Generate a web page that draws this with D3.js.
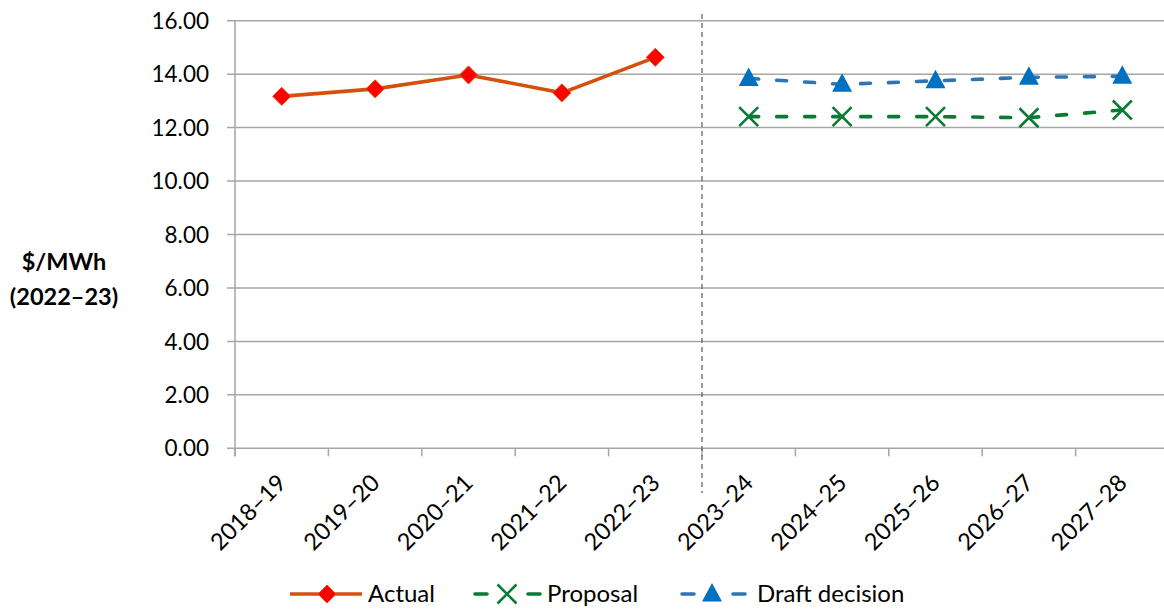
<!DOCTYPE html>
<html>
<head>
<meta charset="utf-8">
<script src="https://cdn.jsdelivr.net/npm/d3@7"></script>
<style>
  html, body { margin: 0; padding: 0; background: #fff; }
  svg { display: block; }
  text { font-family: Lato, "Open Sans", sans-serif; fill: #000; }
</style>
</head>
<body>
<svg id="chart" width="1164" height="609"></svg>
<script>
// Financial years on the category axis
const categories = ["2018–19", "2019–20", "2020–21", "2021–22", "2022–23",
                    "2023–24", "2024–25", "2025–26", "2026–27", "2027–28"];

// $/MWh (2022–23), null where a series has no value
const actual   = [13.17, 13.45, 13.97, 13.30, 14.63, null, null, null, null, null];
const proposal = [null, null, null, null, null, 12.41, 12.41, 12.41, 12.37, 12.66];
const draft    = [null, null, null, null, null, 13.84, 13.62, 13.75, 13.88, 13.92];

const yTicks = [0, 2, 4, 6, 8, 10, 12, 14, 16];
const splitAfter = "2022–23";

const svg = d3.select("#chart");
const margin = { left: 235, right: -5, top: 20.7, bottom: 160.7 };
const W = 1164, H = 609;

const x = d3.scaleBand()
  .domain(categories)
  .range([margin.left, W - margin.right]);
const y = d3.scaleLinear()
  .domain([0, 16])
  .range([H - margin.bottom, margin.top]);

const gridColor = "#a6a6a6";

// horizontal gridlines
svg.append("g")
  .selectAll("line")
  .data(yTicks)
  .join("line")
  .attr("x1", margin.left - 8)
  .attr("x2", W - margin.right)
  .attr("y1", d => y(d))
  .attr("y2", d => y(d))
  .attr("stroke", gridColor)
  .attr("stroke-width", 1.5);

// y axis line
svg.append("line")
  .attr("x1", margin.left).attr("x2", margin.left)
  .attr("y1", y(16)).attr("y2", y(0) + 8)
  .attr("stroke", gridColor).attr("stroke-width", 1.5);

// y tick labels
svg.append("g")
  .selectAll("text")
  .data(yTicks)
  .join("text")
  .attr("x", 209)
  .attr("y", d => y(d))
  .attr("dy", "0.36em")
  .attr("text-anchor", "end")
  .style("font-size", "22.5px")
  .text(d => d3.format(".2f")(d));

// x tick marks at band boundaries
const boundaries = categories.map(c => x(c)).concat([x(categories[categories.length - 1]) + x.bandwidth()]);
svg.append("g")
  .selectAll("line")
  .data(boundaries)
  .join("line")
  .attr("x1", d => d).attr("x2", d => d)
  .attr("y1", y(0)).attr("y2", y(0) + 8)
  .attr("stroke", gridColor).attr("stroke-width", 1.5);

// x tick labels, rotated
svg.append("g")
  .selectAll("text")
  .data(categories)
  .join("text")
  .attr("transform", d => `translate(${x(d) + x.bandwidth() / 2},${y(0) + 30}) rotate(-45)`)
  .attr("text-anchor", "end")
  .attr("dy", "0.36em")
  .style("font-size", "23.5px")
  .text(d => d);

// divider between actual and forecast years
const splitX = x(splitAfter) + x.bandwidth();
svg.append("line")
  .attr("x1", splitX).attr("x2", splitX)
  .attr("y1", 14).attr("y2", 493)
  .attr("stroke", "#595959")
  .attr("stroke-width", 1.2)
  .attr("stroke-dasharray", "5,4");

// y axis title
const yTitle = svg.append("text")
  .attr("text-anchor", "middle")
  .style("font-size", "23.5px")
  .style("font-weight", "bold");
yTitle.append("tspan").attr("x", 64).attr("y", 270).text("$/MWh");
yTitle.append("tspan").attr("x", 64).attr("y", 305).text("(2022–23)");

const cx = d => x(d) + x.bandwidth() / 2;

const series = [
  { name: "Actual", values: actual, color: "#d4500c", dash: null, marker: "diamond" },
  { name: "Proposal", values: proposal, color: "#0b7a34", dash: "10,18", marker: "cross" },
  { name: "Draft decision", values: draft, color: "#2e75b6", dash: "10,18", marker: "triangle" }
];

const lineGen = d3.line()
  .defined(d => d.v != null)
  .x(d => cx(d.c))
  .y(d => y(d.v));

function drawMarker(g, type, px, py) {
  if (type === "diamond") {
    g.append("path")
      .attr("d", `M${px},${py - 9}L${px + 9},${py}L${px},${py + 9}L${px - 9},${py}Z`)
      .attr("fill", "#ff0000")
      .attr("stroke", "#e04a0a")
      .attr("stroke-width", 1);
  } else if (type === "cross") {
    const s = 9.5;
    g.append("path")
      .attr("d", `M${px - s},${py - s}L${px + s},${py + s}M${px - s},${py + s}L${px + s},${py - s}`)
      .attr("stroke", "#0b7a34")
      .attr("stroke-width", 2.6)
      .attr("fill", "none");
  } else {
    g.append("path")
      .attr("d", `M${px},${py - 11}L${px + 10},${py + 7.5}L${px - 10},${py + 7.5}Z`)
      .attr("fill", "#0070c0");
  }
}

series.forEach(s => {
  const pts = categories.map((c, i) => ({ c, v: s.values[i] }));
  svg.append("path")
    .datum(pts)
    .attr("d", lineGen)
    .attr("fill", "none")
    .attr("stroke", s.color)
    .attr("stroke-width", 3.6)
    .attr("stroke-linecap", s.dash ? "round" : "butt")
    .attr("stroke-dasharray", s.dash);
  const g = svg.append("g");
  pts.filter(d => d.v != null).forEach(d => drawMarker(g, s.marker, cx(d.c), y(d.v)));
});

// legend
const legendY = 594;
const legend = [
  { s: series[0], x0: 290, x1: 362, mx: 327, tx: 368 },
  { s: series[1], x0: 473, x1: 542, mx: 507, tx: 547 },
  { s: series[2], x0: 680, x1: 747, mx: 712, tx: 757 }
];
legend.forEach(l => {
  const g = svg.append("g");
  if (l.s.dash) {
    g.append("line").attr("x1", l.x0 + 2).attr("x2", l.x0 + 14)
      .attr("y1", legendY).attr("y2", legendY)
      .attr("stroke", l.s.color).attr("stroke-width", 3.6).attr("stroke-linecap", "round");
    g.append("line").attr("x1", l.x1 - 14).attr("x2", l.x1 - 2)
      .attr("y1", legendY).attr("y2", legendY)
      .attr("stroke", l.s.color).attr("stroke-width", 3.6).attr("stroke-linecap", "round");
  } else {
    g.append("line").attr("x1", l.x0).attr("x2", l.x1)
      .attr("y1", legendY).attr("y2", legendY)
      .attr("stroke", l.s.color).attr("stroke-width", 3.6);
  }
  drawMarker(g, l.s.marker, l.mx, legendY);
  g.append("text")
    .attr("x", l.tx).attr("y", legendY)
    .attr("dy", "0.34em")
    .style("font-size", "24px")
    .text(l.s.name);
});
</script>
</body>
</html>
